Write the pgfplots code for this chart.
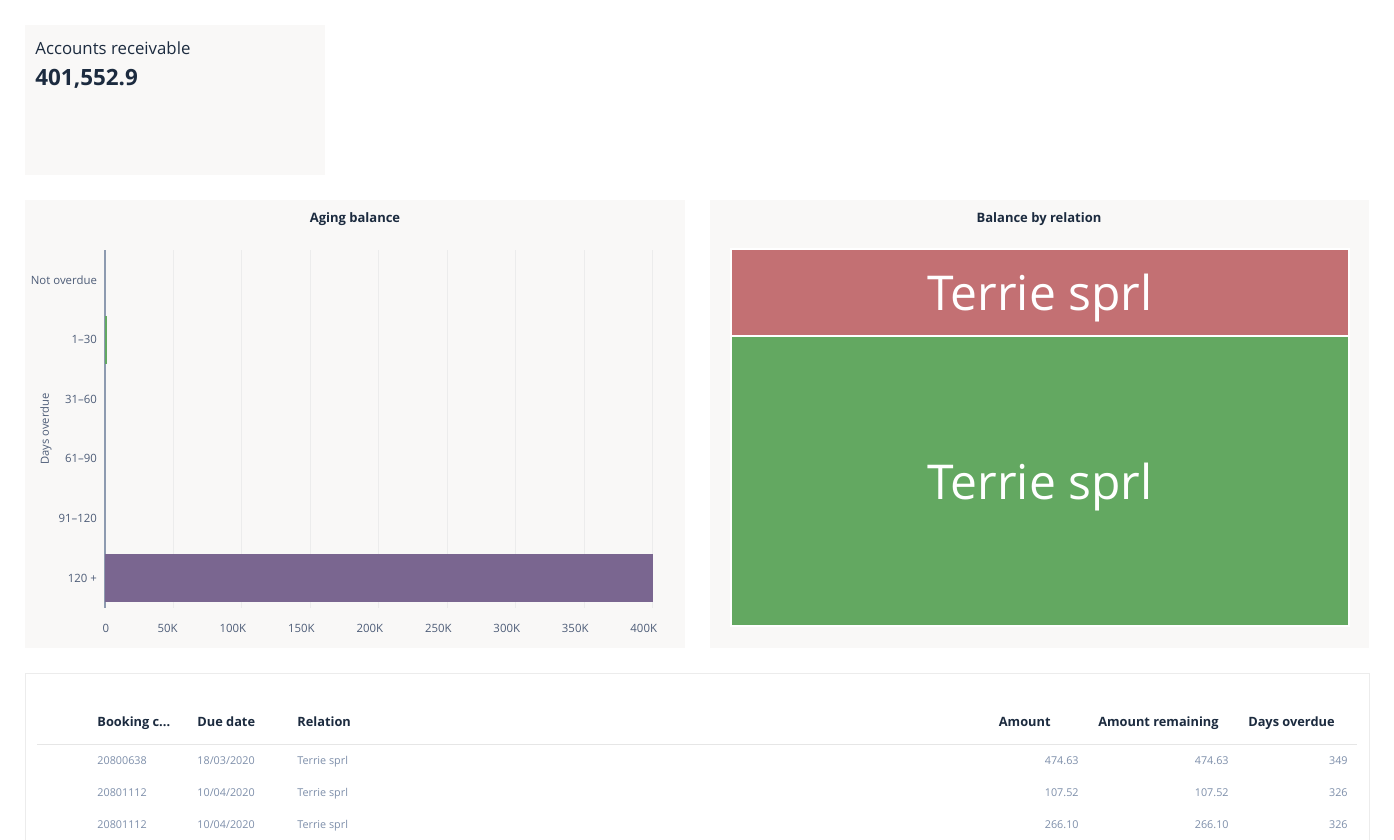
\documentclass[border=0pt]{standalone}
\usepackage{fontspec}
\setmainfont{Open Sans}
\usepackage{pgfplots}
\pgfplotsset{compat=1.18}
\definecolor{cardbg}{HTML}{F9F8F7}
\definecolor{navy}{HTML}{1C2B3F}
\definecolor{ticklab}{HTML}{4E5D78}
\definecolor{axisln}{HTML}{8E9BB0}
\definecolor{gridc}{HTML}{ECECEC}
\definecolor{rowtxt}{HTML}{7E8FAA}
\definecolor{cpurple}{HTML}{7A6690}
\definecolor{cgreen}{HTML}{63A861}
\definecolor{cred}{HTML}{C37073}
\definecolor{sepc}{HTML}{E6E6E6}
\begin{document}
\begin{tikzpicture}
\begin{scope}[x=0.5pt,y=-0.5pt]
\path[fill=white,use as bounding box] (0,0) rectangle (1394,840);
% KPI card
\fill[cardbg] (25,25) rectangle (325,175);
\node[anchor=base west,inner sep=0,text=navy,font=\fontsize{8.4}{10}\selectfont] at (35,55) {Accounts receivable};
\node[anchor=base west,inner sep=0,text=navy,font=\fontsize{11.2}{13}\selectfont\bfseries] at (35,86) {401,552.9};
% Aging balance card
\fill[cardbg] (25,200) rectangle (685,648);
\node[anchor=base,inner sep=0,text=navy,font=\fontsize{6.5}{8}\selectfont\bfseries] at (355,223) {Aging balance};
\node[rotate=90,inner sep=0,text=ticklab,font=\fontsize{5.6}{6.5}\selectfont] at (46,429) {Days overdue};
% Balance by relation card
\fill[cardbg] (710,200) rectangle (1369,648);
\node[anchor=base,inner sep=0,text=navy,font=\fontsize{6.5}{8}\selectfont\bfseries] at (1039,223) {Balance by relation};
% Table card
\filldraw[fill=white,draw=gridc,line width=0.5pt] (25,673) rectangle (1369,870);
\begin{scope}[every node/.style={inner sep=0,text=navy,font=\fontsize{6.4}{8}\selectfont\bfseries}]
\node[anchor=base west] at (97,726) {Booking c...};
\node[anchor=base west] at (197,726) {Due date};
\node[anchor=base west] at (297,726) {Relation};
\node[anchor=base east] at (1051,726) {Amount};
\node[anchor=base east] at (1219,726) {Amount remaining};
\node[anchor=base east] at (1335,726) {Days overdue};
\end{scope}
\draw[sepc,line width=0.6pt] (37,744.5) -- (1357,744.5);
\begin{scope}[every node/.style={inner sep=0,text=rowtxt,font=\fontsize{5.4}{6.5}\selectfont}]
\node[anchor=base west] at (97,764) {20800638};
\node[anchor=base west] at (197,764) {18/03/2020};
\node[anchor=base west] at (297,764) {Terrie sprl};
\node[anchor=base east] at (1079,764) {474.63};
\node[anchor=base east] at (1229,764) {474.63};
\node[anchor=base east] at (1348,764) {349};
\node[anchor=base west] at (97,796) {20801112};
\node[anchor=base west] at (197,796) {10/04/2020};
\node[anchor=base west] at (297,796) {Terrie sprl};
\node[anchor=base east] at (1079,796) {107.52};
\node[anchor=base east] at (1229,796) {107.52};
\node[anchor=base east] at (1348,796) {326};
\node[anchor=base west] at (97,828) {20801112};
\node[anchor=base west] at (197,828) {10/04/2020};
\node[anchor=base west] at (297,828) {Terrie sprl};
\node[anchor=base east] at (1079,828) {266.10};
\node[anchor=base east] at (1229,828) {266.10};
\node[anchor=base east] at (1348,828) {326};
\end{scope}
\end{scope}
% Aging balance axis
\begin{axis}[at={(52.5pt,-304pt)}, anchor=south west, scale only axis,
  width=275pt, height=179pt,
  xbar, bar shift=0pt, bar width=24pt,
  xmin=0, xmax=401552.9, ymin=-0.5, ymax=5.5, y dir=reverse,
  ytick={0,1,2,3,4,5},
  yticklabels={Not overdue,1--30,31--60,61--90,91--120,120 +},
  xtick={0,50000,100000,150000,200000,250000,300000,350000,400000},
  xticklabels={0,50K,100K,150K,200K,250K,300K,350K,400K},
  scaled x ticks=false,
  axis x line*=bottom, axis y line*=left,
  x axis line style={draw=none},
  y axis line style={draw=axisln,line width=0.6pt,-},
  major tick length=0pt,
  xmajorgrids, major grid style={draw=gridc,line width=0.5pt},
  tick label style={font=\fontsize{5.7}{6.5}\selectfont,text=ticklab},
  xticklabel style={anchor=north east,yshift=-4.5pt,xshift=5.6pt},
  yticklabel style={xshift=-0.5pt},
  clip=false]
\addplot[fill=cgreen,draw=none] coordinates {(1300,1)};
\addplot[fill=cpurple,draw=none] coordinates {(400252.9,5)};
\end{axis}
% Treemap axis
\begin{axis}[at={(365.5pt,-313pt)}, anchor=south west, scale only axis,
  width=309pt, height=188.5pt,
  xmin=0, xmax=1, ymin=0, ymax=401552.9, hide axis, clip=false,
  ybar stacked, bar width=309pt, bar shift=0pt,
  after end axis/.code={
    \node[text=white,font=\fontsize{24}{28}\selectfont,yshift=-3pt] at (axis cs:0.5,154426) {Terrie sprl};
    \node[text=white,font=\fontsize{24}{28}\selectfont,yshift=-3pt] at (axis cs:0.5,355203) {Terrie sprl};
  }]
\addplot[fill=cgreen,draw=white,line width=1pt] coordinates {(0.5,308852.9)};
\addplot[fill=cred,draw=white,line width=1pt] coordinates {(0.5,92700)};
\end{axis}
\end{tikzpicture}
\end{document}
